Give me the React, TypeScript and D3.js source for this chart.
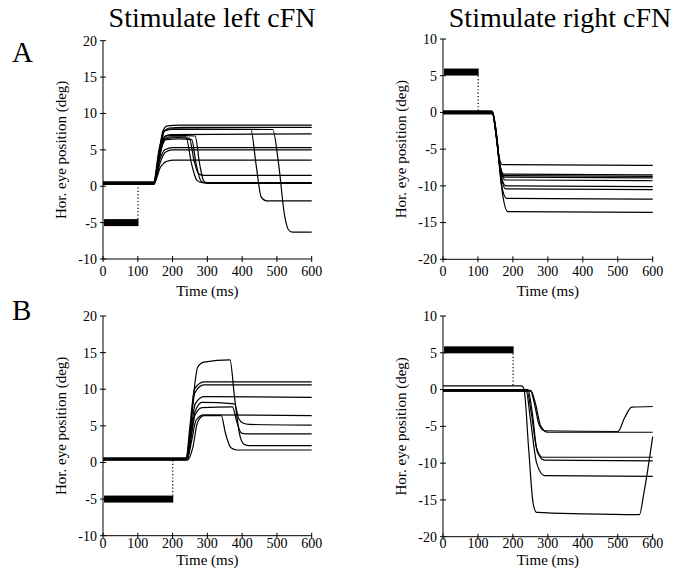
import React from "react";
import * as d3 from "d3";

type Pt = [number, number];

// ---------- data ----------
const xTicks = [0, 100, 200, 300, 400, 500, 600];
const yTicksLeftCol = [-10, -5, 0, 5, 10, 15, 20];
const yTicksRightCol = [-20, -15, -10, -5, 0, 5, 10];

const tracesAL: Pt[][] = [
  [[0, 0.5], [145, 0.5], [160, 4], [172, 7.6], [185, 8.3], [220, 8.4], [600, 8.4]],
  [[0, 0.4], [146, 0.4], [162, 4], [175, 7.5], [190, 8.0], [230, 8.1], [600, 8.1]],
  [[0, 0.3], [147, 0.3], [163, 4], [177, 6.8], [195, 7.1], [600, 7.2]],
  [[0, 0.5], [146, 0.5], [162, 3.5], [178, 5.0], [200, 5.3], [600, 5.3]],
  [[0, 0.4], [148, 0.4], [164, 3.2], [180, 4.7], [200, 5.0], [600, 5.0]],
  [[0, 0.6], [148, 0.6], [165, 2.6], [182, 3.4], [205, 3.6], [600, 3.6]],
  [[0, 0.3], [146, 0.3], [162, 5], [178, 7.6], [200, 7.8], [425, 7.8], [440, 3], [455, -1.5], [470, -2], [600, -2]],
  [[0, 0.5], [145, 0.5], [161, 5], [177, 7.7], [200, 7.9], [488, 7.8], [505, 3], [522, -4], [535, -6.1], [545, -6.3], [600, -6.3]],
  [[0, 0.4], [147, 0.4], [163, 4.5], [178, 6.6], [200, 6.8], [238, 6.8], [255, 3], [270, 0.8], [285, 0.5], [600, 0.5]],
  [[0, 0.3], [147, 0.3], [163, 4.5], [180, 6.5], [215, 6.7], [248, 6.6], [262, 3.5], [275, 1.7], [290, 1.5], [600, 1.5]],
  [[0, 0.5], [147, 0.5], [164, 4.5], [180, 6.4], [220, 6.5], [255, 6.4], [268, 3], [282, 0.7], [300, 0.4], [600, 0.4]],
  [[0, 0.4], [146, 0.4], [162, 4.8], [178, 6.9], [210, 7.0], [265, 6.9], [278, 3], [290, 0.7], [305, 0.4], [600, 0.4]],
];

const tracesAR: Pt[][] = [
  [[0, 0.2], [140, 0.2], [150, -2], [160, -6], [170, -7.1], [600, -7.2]],
  [[0, 0.1], [140, 0.1], [151, -2.5], [162, -7], [174, -8.4], [600, -8.5]],
  [[0, 0.0], [141, 0.0], [152, -2.5], [163, -7.2], [175, -8.6], [600, -8.7]],
  [[0, -0.1], [141, -0.1], [152, -3], [164, -7.5], [176, -8.8], [600, -8.9]],
  [[0, 0.1], [140, 0.1], [152, -3], [165, -8], [178, -9.2], [600, -9.3]],
  [[0, -0.2], [142, -0.2], [153, -3], [166, -8.5], [180, -10.0], [600, -10.1]],
  [[0, 0.0], [141, 0.0], [153, -3.5], [167, -9], [180, -10.4], [600, -10.5]],
  [[0, -0.1], [141, -0.1], [154, -4], [168, -10], [182, -11.7], [600, -11.8]],
  [[0, 0.1], [142, 0.1], [155, -4], [170, -11], [185, -13.5], [600, -13.6]],
];

const tracesBL: Pt[][] = [
  [[0, 0.5], [238, 0.5], [248, 3], [260, 9], [272, 13], [290, 13.7], [365, 14], [378, 9], [392, 4], [405, 2.5], [420, 2.3], [600, 2.3]],
  [[0, 0.4], [245, 0.4], [258, 2], [272, 5.5], [290, 6.4], [340, 6.4], [352, 4], [368, 2], [385, 1.7], [600, 1.7]],
  [[0, 0.6], [240, 0.6], [252, 3], [265, 6.5], [285, 7.5], [372, 7.6], [385, 5.5], [398, 4], [410, 3.9], [600, 3.9]],
  [[0, 0.5], [240, 0.5], [252, 3.5], [265, 7], [285, 8.2], [378, 8.0], [390, 6], [402, 5.4], [420, 5.2], [600, 5.1]],
  [[0, 0.3], [242, 0.3], [255, 3], [268, 5.8], [290, 6.5], [600, 6.4]],
  [[0, 0.5], [240, 0.5], [252, 4], [265, 8], [290, 9.0], [600, 8.9]],
  [[0, 0.4], [240, 0.4], [251, 4.5], [264, 9.5], [290, 10.6], [600, 10.6]],
  [[0, 0.6], [239, 0.6], [250, 5], [263, 10], [290, 11.0], [600, 11.0]],
];

const tracesBR: Pt[][] = [
  [[0, 0.5], [225, 0.5], [232, 0], [245, -8], [258, -15.5], [268, -16.7], [400, -16.9], [562, -17], [575, -14], [600, -6.4]],
  [[0, -0.1], [250, -0.1], [262, -2], [275, -4.8], [290, -5.6], [500, -5.7], [520, -3.8], [540, -2.4], [600, -2.3]],
  [[0, -0.2], [252, -0.2], [265, -2], [280, -5], [300, -5.8], [600, -5.8]],
  [[0, -0.1], [240, -0.1], [252, -3], [268, -8], [285, -9.2], [600, -9.2]],
  [[0, 0.0], [243, 0.0], [255, -3], [270, -8.5], [290, -9.6], [600, -9.7]],
  [[0, -0.2], [238, -0.2], [250, -4], [268, -10], [290, -11.7], [600, -11.8]],
];

// stimulus: [start, end, level, baseline]
const stimAL = [3, 102, -5, 0.4];
const stimAR = [3, 102, 5.5, 0.0];
const stimBL = [3, 202, -5, 0.5];
const stimBR = [3, 202, 5.4, 0.5];

// ---------- layout ----------
const W = 673;
const H = 577;
const FONT = "'Liberation Serif', 'Times New Roman', serif";

type PanelCfg = {
  x0: number; x1: number; yTop: number; yBot: number;
  domain: [number, number]; yTicks: number[];
  traces: Pt[][]; stim: number[];
  xLabelY: number; tickLabelY: number;
};

const panels: PanelCfg[] = [
  { x0: 103, x1: 311.7, yTop: 40.7, yBot: 259, domain: [-10, 20], yTicks: yTicksLeftCol, traces: tracesAL, stim: stimAL, xLabelY: 296, tickLabelY: 276 },
  { x0: 443, x1: 652.7, yTop: 39, yBot: 259.3, domain: [-20, 10], yTicks: yTicksRightCol, traces: tracesAR, stim: stimAR, xLabelY: 296, tickLabelY: 276 },
  { x0: 103, x1: 311.7, yTop: 316, yBot: 535.7, domain: [-10, 20], yTicks: yTicksLeftCol, traces: tracesBL, stim: stimBL, xLabelY: 565, tickLabelY: 548 },
  { x0: 443, x1: 652.7, yTop: 316, yBot: 536.7, domain: [-20, 10], yTicks: yTicksRightCol, traces: tracesBR, stim: stimBR, xLabelY: 565, tickLabelY: 548 },
];

function Panel({ p }: { p: PanelCfg }) {
  const x = d3.scaleLinear().domain([0, 600]).range([p.x0, p.x1]);
  const y = d3.scaleLinear().domain(p.domain).range([p.yBot, p.yTop]);
  const line = d3
    .line<Pt>()
    .x((d) => x(d[0]))
    .y((d) => y(d[1]))
    .curve(d3.curveMonotoneX);
  const [s0, s1, sLev, sBase] = p.stim;
  const barH = 7;
  const barTop = y(sLev) - barH / 2;
  const barBot = y(sLev) + barH / 2;
  const dotFrom = sLev < sBase ? barTop : barBot;
  const midY = (p.yTop + p.yBot) / 2;
  return (
    <g>
      {/* axes */}
      <line x1={p.x0} x2={p.x0} y1={p.yTop} y2={p.yBot} stroke="#000" strokeWidth={1} />
      <line x1={p.x0} x2={p.x1} y1={p.yBot} y2={p.yBot} stroke="#000" strokeWidth={1} />
      {p.yTicks.map((t) => (
        <g key={"y" + t}>
          <line x1={p.x0 - 3} x2={p.x0 + 3} y1={y(t)} y2={y(t)} stroke="#000" strokeWidth={1} />
          <text x={p.x0 - 6} y={y(t)} dy="0.35em" textAnchor="end" fontSize={14} fontFamily={FONT}>
            {t}
          </text>
        </g>
      ))}
      {xTicks.map((t) => (
        <g key={"x" + t}>
          <line x1={x(t)} x2={x(t)} y1={p.yBot - 3} y2={p.yBot + 3} stroke="#000" strokeWidth={1} />
          <text x={x(t)} y={p.tickLabelY} textAnchor="middle" fontSize={14} fontFamily={FONT}>
            {t}
          </text>
        </g>
      ))}
      <text x={(p.x0 + p.x1) / 2} y={p.xLabelY} textAnchor="middle" fontSize={15} fontFamily={FONT}>
        Time (ms)
      </text>
      <text
        transform={`translate(${p.x0 - 37},${midY}) rotate(-90)`}
        textAnchor="middle"
        fontSize={15}
        fontFamily={FONT}
      >
        Hor. eye position (deg)
      </text>
      {/* stimulus */}
      <rect x={x(s0)} y={barTop} width={x(s1) - x(s0)} height={barH} fill="#000" />
      <line
        x1={x(s1) - 0.5}
        x2={x(s1) - 0.5}
        y1={dotFrom}
        y2={y(sBase)}
        stroke="#000"
        strokeWidth={1.2}
        strokeDasharray="1.2,2.2"
      />
      {/* traces */}
      {p.traces.map((tr, i) => (
        <path key={i} d={line(tr) || ""} fill="none" stroke="#000" strokeWidth={1.2} />
      ))}
    </g>
  );
}

export default function App() {
  return (
    <svg
      width={W}
      height={H}
      viewBox={`0 0 ${W} ${H}`}
      style={{ position: "absolute", left: 0, top: 0, background: "#fff" }}
    >
      <rect width={W} height={H} fill="#fff" />
      <text x={212} y={27} textAnchor="middle" fontSize={28} fontFamily={FONT}>
        Stimulate left cFN
      </text>
      <text x={560} y={27} textAnchor="middle" fontSize={28} fontFamily={FONT}>
        Stimulate right cFN
      </text>
      <text x={12} y={62} fontSize={29} fontFamily={FONT}>
        A
      </text>
      <text x={12} y={320} fontSize={29} fontFamily={FONT}>
        B
      </text>
      {panels.map((p, i) => (
        <Panel key={i} p={p} />
      ))}
    </svg>
  );
}
